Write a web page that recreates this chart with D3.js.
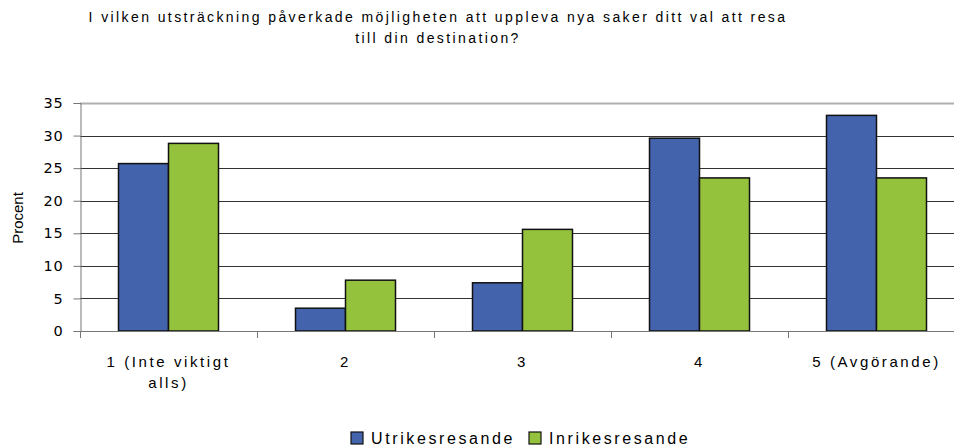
<!DOCTYPE html>
<meta charset="utf-8">
<head>
  <title>resa_chart</title>
</head>
<style>
body { margin: 0; background: #fff; }
svg text { fill: #000; }
.title { font-family: "Liberation Sans", Arial, sans-serif; font-size: 14px; letter-spacing: 2.4px; }
.ytick text { font-family: "DejaVu Sans", Verdana, sans-serif; font-size: 14.5px; letter-spacing: 0.8px; }
.xlab { font-family: "Liberation Sans", Arial, sans-serif; font-size: 15px; letter-spacing: 2.6px; }
.legend text { font-family: "Liberation Sans", Arial, sans-serif; font-size: 16px; letter-spacing: 2.6px; }
</style>
<body>
<svg id="chart" width="954" height="448"></svg>

<script src="https://cdnjs.cloudflare.com/ajax/libs/d3/7.8.5/d3.min.js"></script>
<script>

// data
var categories = ["1 (Inte viktigt alls)", "2", "3", "4", "5 (Avgörande)"];
var utrikes = [25.7, 3.5, 7.4, 29.6, 33.1];
var inrikes = [28.8, 7.8, 15.6, 23.5, 23.5];
var seriesNames = ["Utrikesresande", "Inrikesresande"];
var yTicks = [0, 5, 10, 15, 20, 25, 30, 35];
var colors = ["#4363ad", "#95c23d"];

var titleLines = ["I vilken utsträckning påverkade möjligheten att uppleva nya saker ditt val att resa",
                  "till din destination?"];

var svg = d3.select("#chart");

// plot box (the original is cut off on the right)
var plotLeft = 80, plotTop = 103, plotRight = 965, plotBottom = 331;

var x = d3.scaleBand().domain(categories).range([plotLeft, plotRight]);
var x1 = d3.scaleBand().domain(seriesNames).range([0, 100]);
var y = d3.scaleLinear().domain([0, 35]).range([plotBottom, plotTop]);

// title
svg.selectAll(".title")
   .data(titleLines)
   .enter()
   .append("text")
   .attr("class", "title")
   .attr("x", 438)
   .attr("y", function(d, i){ return 22 + i * 21; })
   .attr("text-anchor", "middle")
   .text(function(d){ return d; });

// gridlines
svg.selectAll(".grid")
   .data(yTicks.filter(function(d){ return d > 0; }))
   .enter()
   .append("line")
   .attr("class", "grid")
   .attr("x1", plotLeft)
   .attr("x2", plotRight)
   .attr("y1", function(d){ return Math.round(y(d)) + 0.5; })
   .attr("y2", function(d){ return Math.round(y(d)) + 0.5; })
   .style("stroke", function(d){ return d == 35 ? "#b0b0b0" : "#333"; })
   .style("stroke-width", function(d){ return d == 35 ? 2 : 1; });

// bars
var groups = svg.selectAll(".grp")
   .data(categories)
   .enter()
   .append("g")
   .attr("class", "grp")
   .attr("transform", function(d){ return "translate(" + (x(d) + x.bandwidth() / 2 - 50) + ",0)"; });

groups.selectAll("rect")
   .data(function(d, i){ return [utrikes[i], inrikes[i]].map(function(v, j){ return {s: seriesNames[j], v: v, c: j}; }); })
   .enter()
   .append("rect")
   .attr("x", function(d){ return x1(d.s); })
   .attr("y", function(d){ return y(d.v); })
   .attr("width", x1.bandwidth())
   .attr("height", function(d){ return plotBottom - y(d.v); })
   .style("fill", function(d){ return colors[d.c]; })
   .style("stroke", "#111")
   .style("stroke-width", 1.5);

// y axis
var yAxis = svg.append("g")
   .attr("class", "ytick")
   .attr("transform", "translate(" + (plotLeft + 0.5) + ",0)")
   .call(d3.axisLeft(y).tickValues(yTicks).tickSize(7).tickPadding(10));
yAxis.select(".domain").style("stroke", "#777");
yAxis.selectAll(".tick line").style("stroke", "#777");

// x axis line and ticks between categories
svg.append("line")
   .attr("x1", plotLeft).attr("x2", plotRight)
   .attr("y1", plotBottom + 0.5).attr("y2", plotBottom + 0.5)
   .style("stroke", "#777");

svg.selectAll(".xtick")
   .data(categories)
   .enter()
   .append("line")
   .attr("class", "xtick")
   .attr("x1", function(d){ return Math.round(x(d)) + 0.5; })
   .attr("x2", function(d){ return Math.round(x(d)) + 0.5; })
   .attr("y1", plotBottom)
   .attr("y2", plotBottom + 7)
   .style("stroke", "#777");

// x labels, wrapped like the original
var xLines = {"1 (Inte viktigt alls)": ["1 (Inte viktigt", "alls)"]};
var xl = svg.selectAll(".xlab")
   .data(categories)
   .enter()
   .append("text")
   .attr("class", "xlab")
   .attr("text-anchor", "middle")
   .attr("x", function(d){ return x(d) + x.bandwidth() / 2; })
   .attr("y", 367);
xl.selectAll("tspan")
   .data(function(d){ return xLines[d] || [d]; })
   .enter()
   .append("tspan")
   .attr("x", function(){ return d3.select(this.parentNode).attr("x"); })
   .attr("dy", function(d, i){ return i == 0 ? 0 : 21; })
   .text(function(d){ return d; });

// y title
svg.append("text")
   .attr("transform", "translate(23,218) rotate(-90)")
   .attr("text-anchor", "middle")
   .style("font-family", "Liberation Sans, Arial, sans-serif")
   .style("font-size", "15px")
   .text("Procent");

// legend
var legendX = [351, 529];
var lg = svg.selectAll(".legend")
   .data(seriesNames)
   .enter()
   .append("g")
   .attr("class", "legend")
   .attr("transform", function(d, i){ return "translate(" + legendX[i] + ",432)"; });
lg.append("rect")
   .attr("width", 12).attr("height", 12)
   .style("fill", function(d, i){ return colors[i]; })
   .style("stroke", "#111").style("stroke-width", 1.2);
lg.append("text")
   .attr("x", 20)
   .attr("y", 12)
   .text(function(d){ return d; });

</script>
</body>
</html>
